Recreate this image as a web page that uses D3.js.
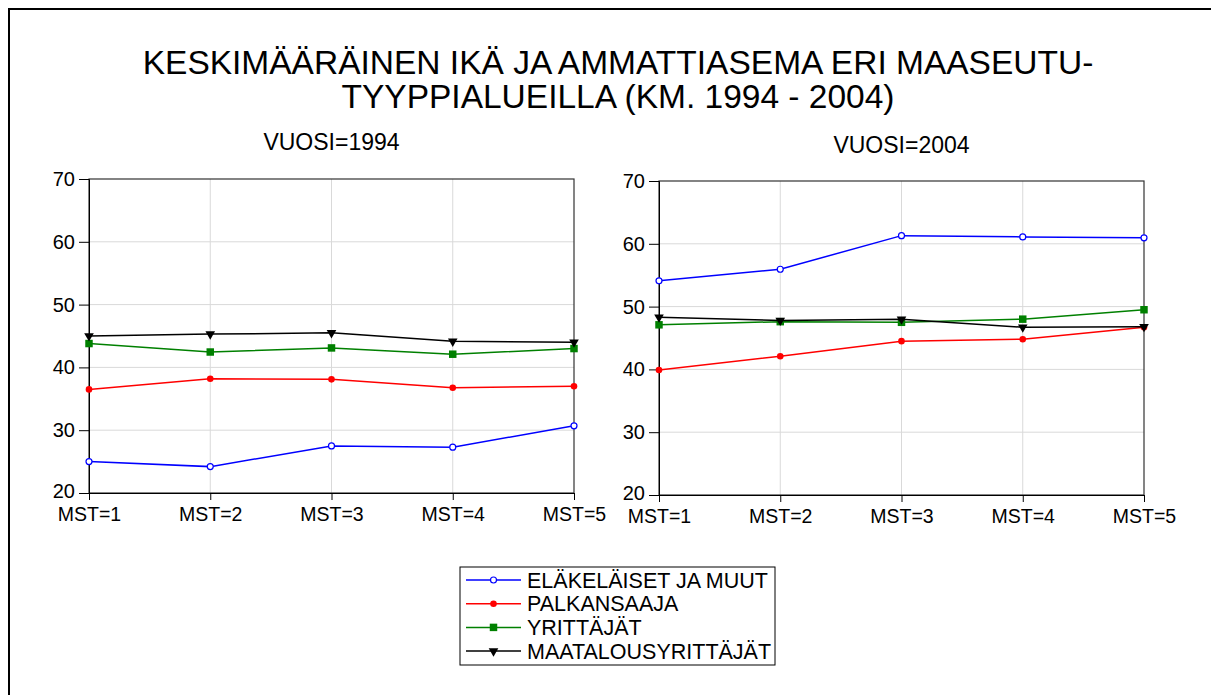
<!DOCTYPE html>
<html><head><meta charset="utf-8">
<script src="https://cdn.jsdelivr.net/npm/d3@7"></script>
<style>body{margin:0;background:#fff;overflow:hidden}svg{display:block}text{font-family:Arial,"Liberation Sans",sans-serif;fill:#000}</style>
</head><body>
<script>
const categories = ["MST=1","MST=2","MST=3","MST=4","MST=5"];
const yTicks = [20,30,40,50,60,70];
const seriesNames = ["ELÄKELÄISET JA MUUT","PALKANSAAJA","YRITTÄJÄT","MAATALOUSYRITTÄJÄT"];
const seriesColors = ["#0000ff","#ff0000","#008000","#000000"];
const seriesMarkers = ["openCircle","circle","square","triangleDown"];
// 1994
const elak1994 = [25.0, 24.2, 27.5, 27.3, 30.7];
const palk1994 = [36.5, 38.2, 38.1, 36.75, 37.0];
const yrit1994 = [43.8, 42.45, 43.1, 42.1, 43.0];
const maat1994 = [45.0, 45.3, 45.5, 44.15, 44.0];
// 2004
const elak2004 = [54.1, 55.95, 61.3, 61.1, 60.95];
const palk2004 = [39.9, 42.1, 44.5, 44.8, 46.7];
const yrit2004 = [47.1, 47.6, 47.5, 48.0, 49.5];
const maat2004 = [48.3, 47.8, 48.0, 46.7, 46.8];
const panelTitles = ["VUOSI=1994","VUOSI=2004"];
const titleLines = ["KESKIMÄÄRÄINEN IKÄ JA AMMATTIASEMA ERI MAASEUTU-","TYYPPIALUEILLA (KM. 1994 - 2004)"];

const panelsData = [
  [elak1994, palk1994, yrit1994, maat1994],
  [elak2004, palk2004, yrit2004, maat2004]
];

const W = 1211, H = 695;
const svg = d3.select("body").append("svg").attr("width", W).attr("height", H);

// outer frame (only top/left visible)
svg.append("rect").attr("x", 9).attr("y", 9).attr("width", 1400).attr("height", 900)
  .attr("fill", "none").attr("stroke", "#000").attr("stroke-width", 2);

// title
svg.selectAll("text.title").data(titleLines).enter().append("text")
  .attr("class","title").attr("x", 618).attr("y", (d,i) => 74 + i*34)
  .attr("text-anchor","middle").style("font-size","33.5px").text(d => d);

const panels = [
  {x0: 89, x1: 574, y0: 179, y1: 493, titleY: 150},
  {x0: 659, x1: 1144, y0: 181, y1: 495, titleY: 153}
];

function drawMarker(g, type, color, x, y) {
  if (type === "openCircle") {
    g.append("circle").attr("cx", x).attr("cy", y).attr("r", 3)
      .attr("fill", "#fff").attr("stroke", color).attr("stroke-width", 1.2);
  } else if (type === "circle") {
    g.append("circle").attr("cx", x).attr("cy", y).attr("r", 3.3).attr("fill", color);
  } else if (type === "square") {
    g.append("path").attr("d", d3.symbol(d3.symbolSquare, 56)()).attr("transform", `translate(${x},${y})`).attr("fill", color);
  } else {
    g.append("path").attr("d", d3.symbol(d3.symbolTriangle, 40)()).attr("transform", `translate(${x},${y}) rotate(180)`).attr("fill", color);
  }
}

panels.forEach((p, pi) => {
  const x = d3.scalePoint().domain(categories).range([p.x0, p.x1]);
  const y = d3.scaleLinear().domain([20, 70]).range([p.y1, p.y0]);
  const g = svg.append("g");

  // grid
  g.selectAll("line.hg").data(yTicks.slice(1, -1)).enter().append("line")
    .attr("x1", p.x0).attr("x2", p.x1).attr("y1", d => y(d)).attr("y2", d => y(d))
    .attr("stroke", "#d9d9d9").attr("stroke-width", 1);
  g.selectAll("line.vg").data(categories.slice(1, -1)).enter().append("line")
    .attr("x1", d => x(d)).attr("x2", d => x(d)).attr("y1", p.y0).attr("y2", p.y1)
    .attr("stroke", "#d9d9d9").attr("stroke-width", 1);

  // frame
  g.append("rect").attr("x", p.x0).attr("y", p.y0).attr("width", p.x1 - p.x0).attr("height", p.y1 - p.y0)
    .attr("fill", "none").attr("stroke", "#333").attr("stroke-width", 1.2);

  // axes
  const ya = d3.axisLeft(y).tickValues(yTicks).tickSize(10).tickPadding(4);
  const yg = g.append("g").attr("transform", `translate(${p.x0},0)`).call(ya);
  yg.select(".domain").attr("stroke", "#000");
  yg.selectAll(".tick line").attr("stroke", "#000");
  yg.selectAll("text").style("font-size", "20px").style("font-family", "Arial, 'Liberation Sans', sans-serif").attr("fill", "#000")
    .attr("dy", d => d === 20 ? "0.2em" : "0.32em");

  const xa = d3.axisBottom(x).tickSize(7).tickPadding(7);
  const xg = g.append("g").attr("transform", `translate(0,${p.y1})`).call(xa);
  xg.select(".domain").attr("stroke", "#000");
  xg.selectAll(".tick line").attr("stroke", "#000");
  xg.selectAll("text").style("font-size", "19.5px").style("font-family", "Arial, 'Liberation Sans', sans-serif").attr("fill", "#000");

  // panel title
  svg.append("text").attr("x", (p.x0 + p.x1) / 2).attr("y", p.titleY).attr("text-anchor", "middle")
    .style("font-size", "23px").text(panelTitles[pi]);

  // series
  panelsData[pi].forEach((vals, si) => {
    const line = d3.line().x((d, i) => x(categories[i])).y(d => y(d));
    g.append("path").datum(vals).attr("d", line).attr("fill", "none")
      .attr("stroke", seriesColors[si]).attr("stroke-width", 1.5);
    vals.forEach((v, i) => drawMarker(g, seriesMarkers[si], seriesColors[si], x(categories[i]), y(v)));
  });
});

// legend
const lg = svg.append("g");
lg.append("rect").attr("x", 460).attr("y", 567).attr("width", 315).attr("height", 98)
  .attr("fill", "#fff").attr("stroke", "#000").attr("stroke-width", 1);
seriesNames.forEach((n, i) => {
  const cy = 580 + i * 23.7;
  lg.append("line").attr("x1", 466).attr("x2", 521).attr("y1", cy).attr("y2", cy)
    .attr("stroke", seriesColors[i]).attr("stroke-width", 1.5);
  drawMarker(lg, seriesMarkers[i], seriesColors[i], 493.5, cy);
  lg.append("text").attr("x", 527).attr("y", cy + 7.5).style("font-size", "21.5px").text(n);
});
</script>
</body></html>
